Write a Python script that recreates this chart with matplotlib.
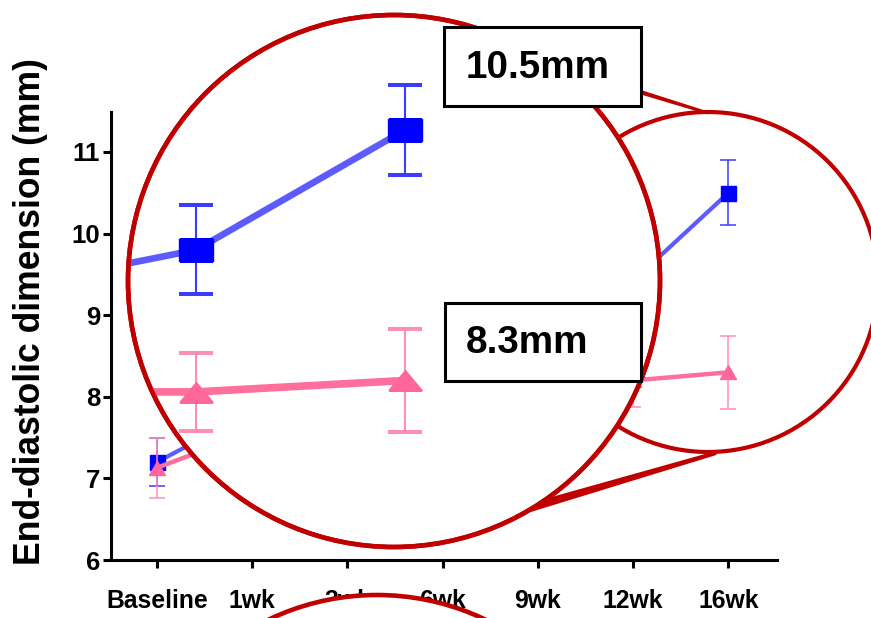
import matplotlib
matplotlib.use('Agg')
import matplotlib.pyplot as plt
from matplotlib import font_manager
from matplotlib.patches import Circle, Rectangle, Polygon
from matplotlib.lines import Line2D
from matplotlib.collections import LineCollection
import numpy as np

# ---------------- data ----------------
categories = ['Baseline', '1wk', '3wk', '6wk', '9wk', '12wk', '16wk']
blue_mean = [7.20, 7.82, 8.40, 8.90, 9.20, 9.42, 10.50]
blue_err = [0.29, 0.35, 0.40, 0.40, 0.40, 0.40, 0.40]
pink_mean = [7.13, 7.57, 7.80, 7.95, 8.10, 8.20, 8.30]
pink_err = [0.37, 0.40, 0.40, 0.40, 0.40, 0.33, 0.45]

# magnified view (first entry lies outside the lens, only its line shows)
zoom_blue_mean = [9.29, 9.80, 11.27]
zoom_blue_err = [0.0, 0.545, 0.55]
zoom_pink_mean = [8.06, 8.06, 8.20]
zoom_pink_err = [0.0, 0.48, 0.63]

y_ticks = [6, 7, 8, 9, 10, 11]
ylabel = 'End-diastolic dimension (mm)'
label_high = '10.5mm'
label_low = '8.3mm'

# ---------------- style ----------------
names = {f.name for f in font_manager.fontManager.ttflist}
if 'Liberation Sans Narrow' in names:
    FAM = ['Liberation Sans Narrow', 'DejaVu Sans']
    narrow = True
else:
    FAM = ['Liberation Sans', 'DejaVu Sans']
    narrow = False
plt.rcParams['font.family'] = FAM
plt.rcParams['font.weight'] = 'bold'

FS_XT = 21 if narrow else 17.8
FS_YT = 20 if narrow else 18.5
FS_YL = 31 if narrow else 25.6
FS_BOX = 34 if narrow else 27.8

BLUE_MARK = '#0000ff'
BLUE_LINE = '#5b5bff'
BLUE_ERR = '#3c3cff'
PINK_MARK = '#ff6699'
PINK_LINE = '#ff6f9c'
PINK_ERR = '#ff8fb0'
RED = '#c00000'

W, H = 871, 618
fig = plt.figure(figsize=(W / 100, H / 100), dpi=100)


def fig_rect(l, t, r, b):
    return [l / W, 1 - b / H, (r - l) / W, (b - t) / H]


# ---------------- main axes ----------------
AX_T, AX_B = 112, 560
Y0, Y1 = 6, 11.49
PPU = (AX_B - AX_T) / (Y1 - Y0)  # pixels per data unit

ax = fig.add_axes(fig_rect(111, AX_T, 777, AX_B))
ax.set_zorder(1)
x = np.arange(len(categories))
tri_main = [(-1, -0.875), (1, -0.875), (0, 0.875), (-1, -0.875)]

ax.errorbar(x, blue_mean, yerr=blue_err, fmt='none', ecolor=BLUE_ERR,
            elinewidth=1.1, capsize=5.8, capthick=1.1, zorder=2)
ax.plot(x, blue_mean, color=BLUE_LINE, lw=3, zorder=3)
ax.plot(x, blue_mean, ls='none', marker='s', ms=10.8, color=BLUE_MARK, zorder=4)

ax.errorbar(x, pink_mean, yerr=pink_err, fmt='none', ecolor=PINK_ERR,
            elinewidth=1.1, capsize=5.8, capthick=1.1, zorder=5)
ax.plot(x, pink_mean, color=PINK_LINE, lw=3.2, zorder=6)
ax.plot(x, pink_mean, ls='none', marker=tri_main, ms=11.5, color=PINK_MARK, zorder=7)

ax.set_xlim(-0.483, 6.51)
ax.set_ylim(Y0, Y1)
ax.set_xticks(x)
ax.set_xticklabels(categories, fontsize=FS_XT, fontweight='bold')
ax.set_yticks(y_ticks)
ax.set_yticklabels([str(v) for v in y_ticks], fontsize=FS_YT, fontweight='bold')
for s in ['top', 'right']:
    ax.spines[s].set_visible(False)
for s in ['left', 'bottom']:
    ax.spines[s].set_linewidth(2.2)
ax.tick_params(axis='x', direction='out', length=5.8, width=2.2, pad=15)
ax.tick_params(axis='y', direction='out', length=5.8, width=2.2, pad=2)
ax.patch.set_alpha(0)

fig.text(31 / W, 1 - 312 / H, ylabel, rotation=90, ha='center', va='center',
         fontsize=FS_YL, fontweight='bold')

# ---------------- overlay 1: small lens, connectors, big lens ----------------
ov1 = fig.add_axes([0, 0, 1, 1])
ov1.set_zorder(2)
ov1.set_xlim(0, W)
ov1.set_ylim(H, 0)
ov1.axis('off')

BIG_C, BIG_R = (394, 281), 266
SMALL_C, SMALL_R = (708, 282), 170

ov1.add_patch(Circle(SMALL_C, SMALL_R, fill=False, ec=RED, lw=3.0, zorder=1))


def taper(p0, p1, w0, w1):
    p0 = np.array(p0, float)
    p1 = np.array(p1, float)
    d = p1 - p0
    d /= np.hypot(*d)
    n = np.array([-d[1], d[0]])
    return [p0 + n * w0 / 2, p1 + n * w1 / 2, p1 - n * w1 / 2, p0 - n * w0 / 2]


ov1.add_patch(Polygon(taper((556, 66), (708, 113), 6, 3), closed=True,
                      fc=RED, ec='none', zorder=2))
ov1.add_patch(Polygon(taper((522, 510), (716, 453), 9, 4), closed=True,
                      fc=RED, ec='none', zorder=2))
ov1.add_patch(Circle(BIG_C, BIG_R, fc='white', ec=RED, lw=3.3, zorder=3))

# ---------------- magnified content inside the big lens ----------------
# full-height axes sharing the main y scale, so bars above 11.5 are not cut
axz = fig.add_axes(fig_rect(128, 0, 660, H))
axz.set_zorder(3)
axz.axis('off')
xz = np.arange(len(zoom_blue_mean))
sq_zoom = [(-1, -0.65), (1, -0.65), (1, 0.65), (-1, 0.65), (-1, -0.65)]
tri_zoom = [(-1, -0.6), (1, -0.6), (0, 0.6), (-1, -0.6)]

axz.errorbar(xz[1:], zoom_blue_mean[1:], yerr=zoom_blue_err[1:], fmt='none',
             ecolor=BLUE_ERR, elinewidth=1.5, capsize=12.2, capthick=1.5, zorder=2)
axz.plot(xz, zoom_blue_mean, color=BLUE_LINE, lw=4.8, zorder=3)
axz.plot(xz[1:], zoom_blue_mean[1:], ls='none', marker=sq_zoom, ms=24.5,
         color=BLUE_MARK, zorder=4)
axz.errorbar(xz[1:], zoom_pink_mean[1:], yerr=zoom_pink_err[1:], fmt='none',
             ecolor=PINK_ERR, elinewidth=1.5, capsize=12.2, capthick=1.5, zorder=5)
axz.plot(xz, zoom_pink_mean, color=PINK_LINE, lw=5.5, zorder=6)
axz.plot(xz[1:], zoom_pink_mean[1:], ls='none', marker=tri_zoom, ms=23.8,
         color=PINK_MARK, zorder=7)
axz.set_xlim(1 - 68 / 209, 2 + 255 / 209)
axz.set_ylim(Y0 - (H - AX_B) / PPU, Y0 + AX_B / PPU)

clip = Circle(BIG_C, BIG_R - 1, transform=ov1.transData)
for art in axz.get_children():
    if isinstance(art, (Line2D, LineCollection)):
        art.set_clip_path(clip)

# ---------------- overlay 2: lens rim, labels, bottom lens ----------------
ov2 = fig.add_axes([0, 0, 1, 1])
ov2.set_zorder(4)
ov2.set_xlim(0, W)
ov2.set_ylim(H, 0)
ov2.axis('off')
ov2.add_patch(Circle(BIG_C, BIG_R, fill=False, ec=RED, lw=3.3, zorder=1))

for (l, t, r, b), txt in [((444, 27, 641, 106), label_high),
                          ((445, 303, 641, 381), label_low)]:
    ov2.add_patch(Rectangle((l, t), r - l, b - t, fc='white', ec='black',
                            lw=2.2, zorder=2))
    ov2.text(466, (t + b) / 2 + 1, txt, ha='left', va='center',
             fontsize=FS_BOX, fontweight='bold', zorder=3)

ov2.add_patch(Circle((377, 846), 251, fc='white', ec=RED, lw=3.3, zorder=4))

fig.savefig('out.png', dpi=100)
